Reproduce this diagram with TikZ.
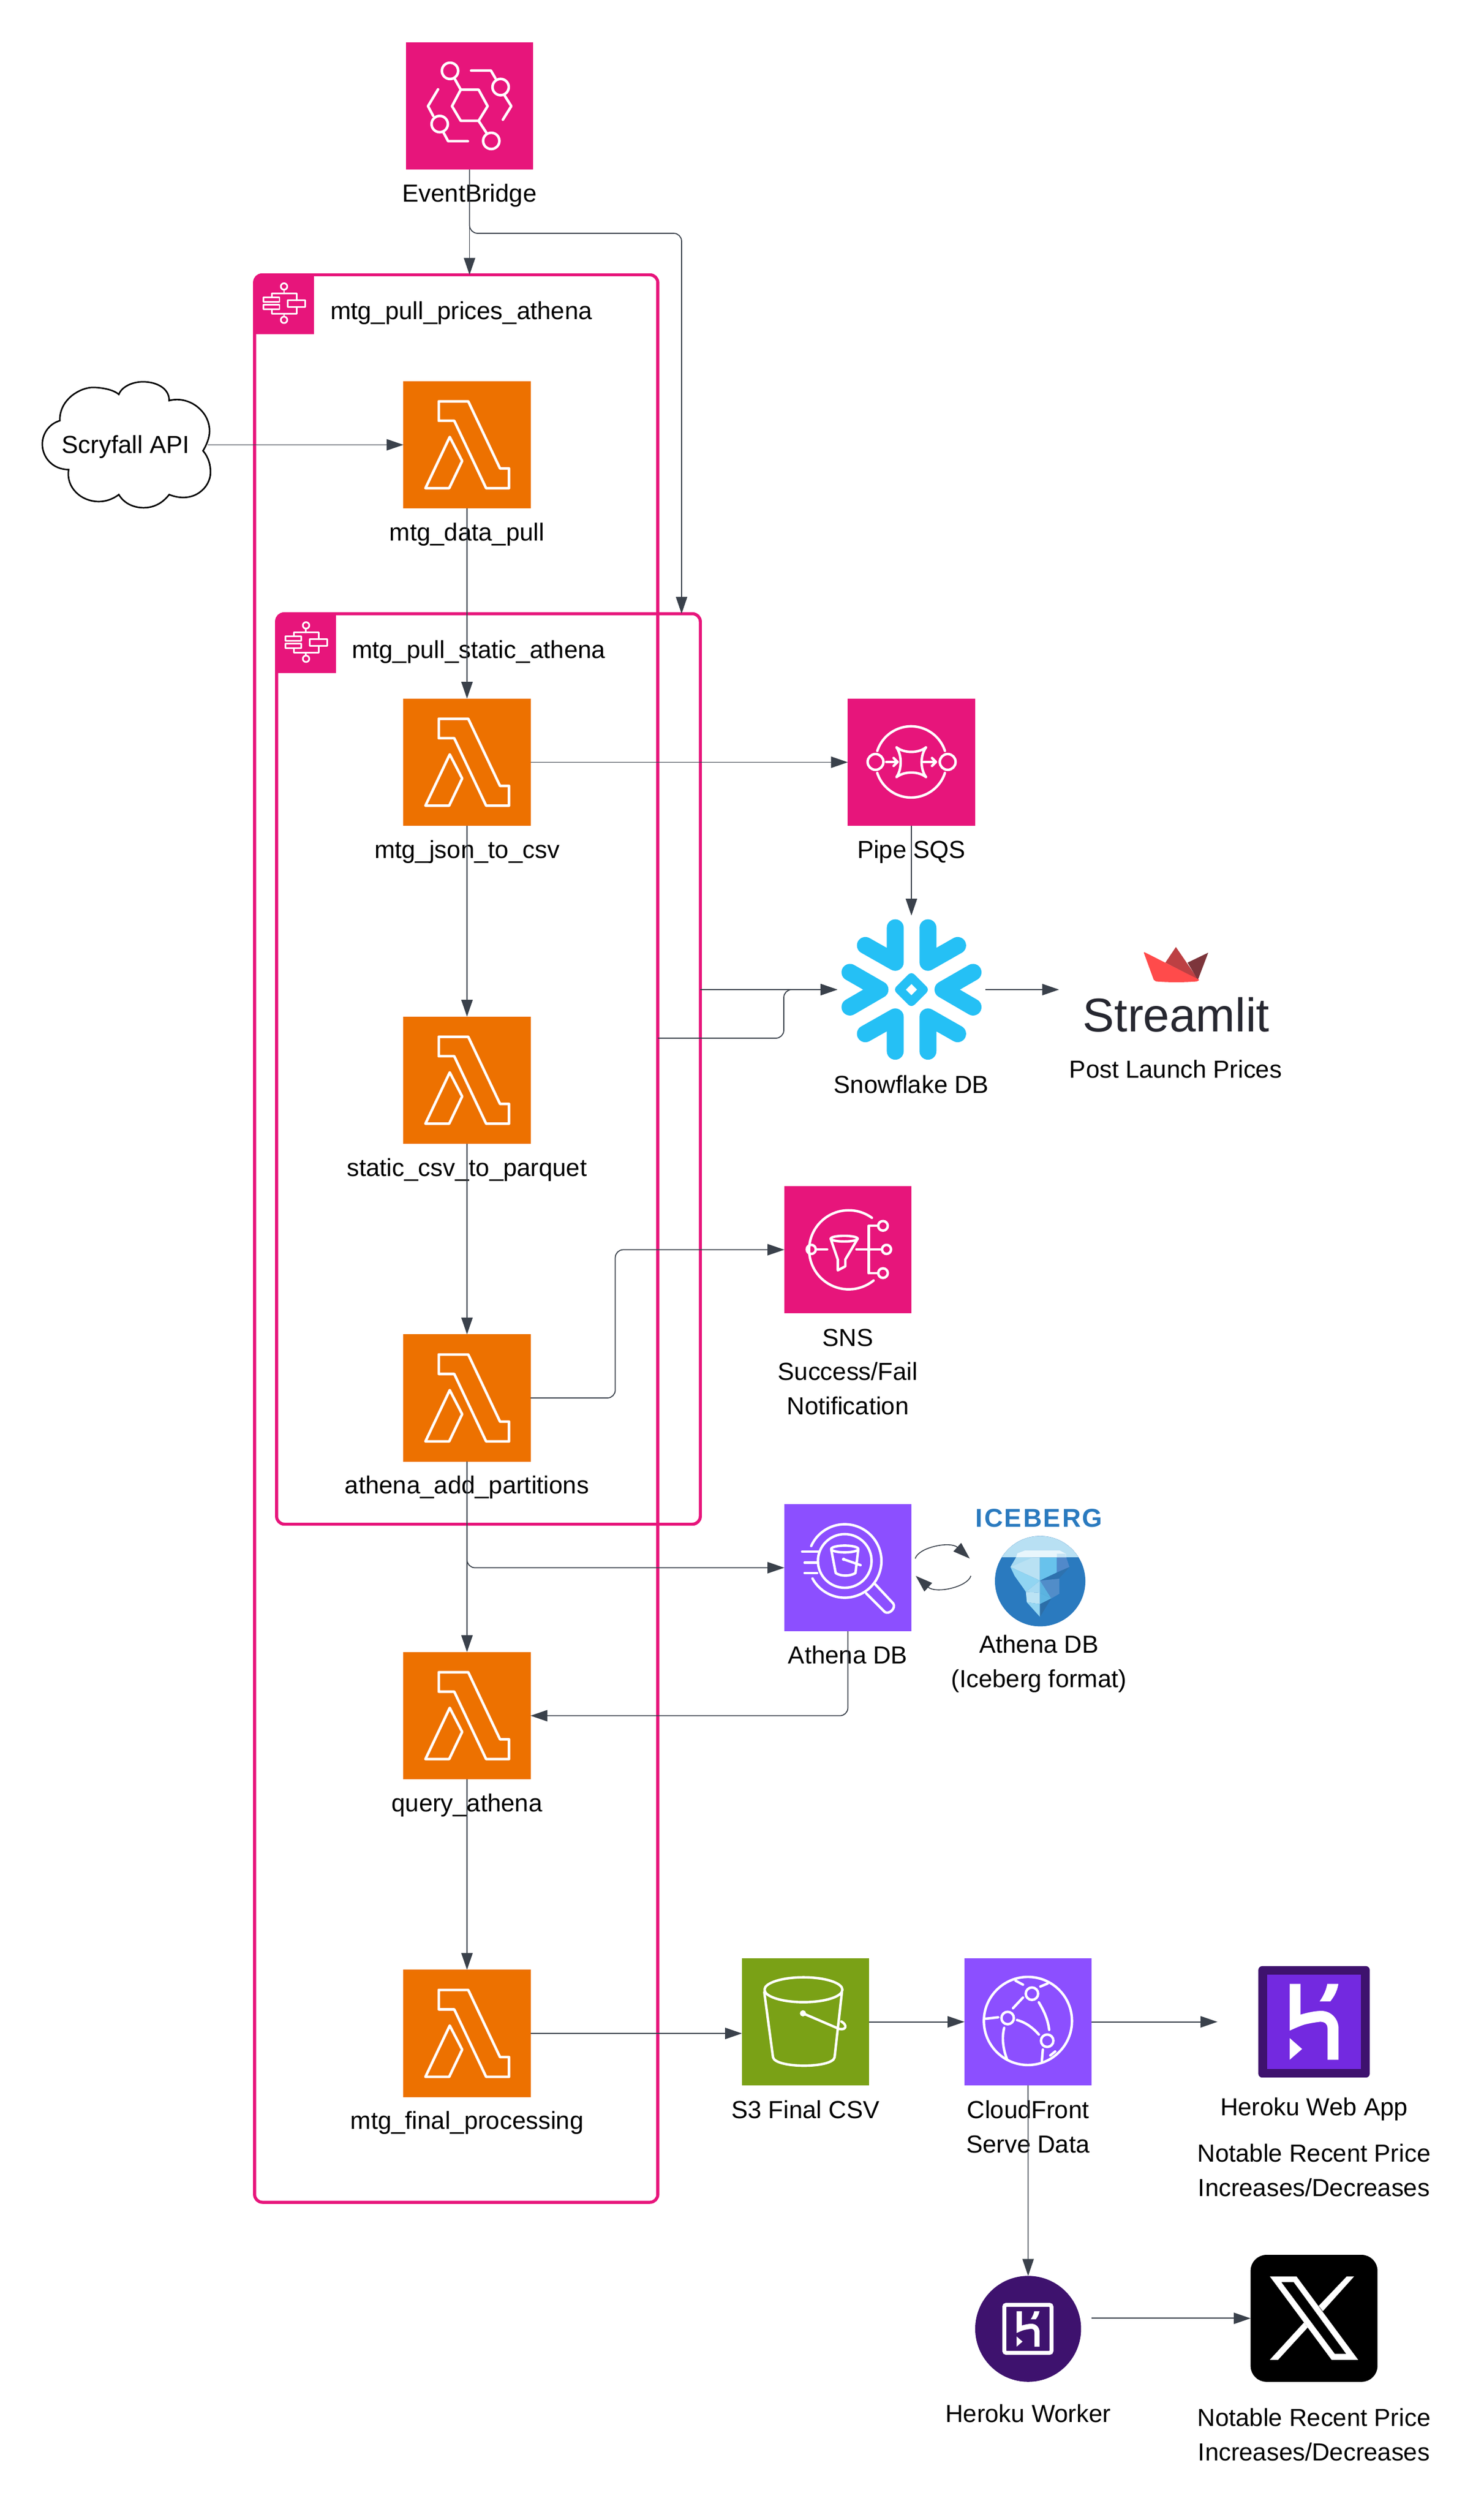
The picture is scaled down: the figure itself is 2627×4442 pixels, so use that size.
\documentclass[tikz,border=0pt]{standalone}
\usepackage{fontspec}
\setmainfont{Liberation Sans}
\usetikzlibrary{arrows.meta}
\definecolor{awspink}{HTML}{E7157B}
\definecolor{awsorange}{HTML}{ED7100}
\definecolor{awspurple}{HTML}{8C4FFF}
\definecolor{awsgreen}{HTML}{7AA116}
\definecolor{connc}{HTML}{3A414B}
\definecolor{snowc}{HTML}{25C0F5}
\definecolor{herokudark}{HTML}{3E126E}
\definecolor{herokumid}{HTML}{7329E0}
\definecolor{iceblue}{HTML}{2A7ABF}
\definecolor{stlred}{HTML}{FF4B4B}
\definecolor{stlmid}{HTML}{BD4043}
\definecolor{stldark}{HTML}{7D353B}
\definecolor{stltext}{HTML}{262730}
\tikzset{
  awsbox/.style={minimum width=2.25cm,minimum height=2.25cm,inner sep=0pt,outer sep=0pt},
  ghost/.style={inner sep=0pt,outer sep=0pt},
  frame/.style={draw=awspink,line width=1.55pt,rounded corners=4pt,inner sep=0pt,outer sep=0pt},
  conn/.style={draw=connc,line width=.55pt,-{Triangle[length=8.5pt,width=5.7pt]}},
  thinconn/.style={conn,line width=.45pt},
  bendconn/.style={conn,line width=.5pt,rounded corners=4pt},
  ico/.style={draw=white,line width=1.3pt,line join=round,line cap=round},
  lab/.style={anchor=base,inner sep=0pt,outer sep=0pt,align=center,font=\fontsize{12.42}{17.2}\selectfont},
  ttl/.style={anchor=base west,inner sep=0pt,outer sep=0pt,font=\fontsize{12.42}{17.2}\selectfont},
  zoomed/.style={x=.003333cm,y=-.003333cm}
}
\newcommand{\icep}[2]{\definecolor{tmpc}{HTML}{#1}\fill[tmpc] #2;}
\newcommand{\lambdaicon}{
  \draw[ico] (62.6,35.6)--(114.8,35.6)--(171,154.4)--(187,154.4)--(187,189.4)--(146.4,189.4)--(90,70)--(62.6,70)--cycle;
  \draw[ico] (82,98.7)--(104,141.2)--(81,189.4)--(39,189.4)--cycle;
}
\newcommand{\stepicon}{
  \fill[awspink] (0,107) [rounded corners=4pt] -- (0,0) [sharp corners] -- (107,0) -- (107,107) -- cycle;
  \begin{scope}[shift={(2,2)}]
  \draw[ico,line width=.85pt] (52.2,20.7) circle[radius=5.7] (52.2,79.8) circle[radius=5.7];
  \draw[ico,line width=.85pt] (52.2,27)--(52.2,33.3) (30.4,40.2)--(30.4,33.3)--(74.6,33.3)--(74.6,45.4)
     (30.4,61.4)--(30.4,68.9)--(74.6,68.9)--(74.6,56.8) (52.2,68.9)--(52.2,73.5);
  \draw[ico,line width=.85pt] (16,40.2) rectangle (44.2,48.2) (16,53.4) rectangle (44.2,61.4) (58.6,45.4) rectangle (89.6,56.8);
  \end{scope}
}
\newcommand{\herokuH}{
  \fill[white] (252,157)--(310,157)--(310,320) .. controls (350,308) and (390,300) .. (420,300)
     .. controls (470,300) and (512,340) .. (512,395) --(512,560)--(453,560)--(453,395)
     .. controls (453,365) and (435,358) .. (415,358) .. controls (380,362) and (350,368) .. (330,373)
     .. controls (300,383) and (275,395) .. (252,405)--cycle;
  \fill[white] (452,157)--(511,157) .. controls (505,190) and (495,215) .. (468,250)--(411,250)
     .. controls (435,215) and (445,190) .. (452,157)--cycle;
  \fill[white] (252,445)--(318,503)--(252,560)--cycle;
}
\begin{document}
\begin{tikzpicture}[x=.01cm,y=-.01cm]
\useasboundingbox (0,0) rectangle (2627,4442);
\fill[white] (0,0) rectangle (2627,4442);

% frames
\node[frame,minimum width=7.137cm,minimum height=34.105cm] (outerf) at (807.85,2192.75) {};
\node[frame,minimum width=7.5cm,minimum height=16.11cm] (innerf) at (865,1892.5) {};
\begin{scope}[shift={(outerf.north west)},shift={(-2,-2)}]\stepicon\end{scope}
\begin{scope}[shift={(innerf.north west)},shift={(-2,-2)}]\stepicon\end{scope}
\node[ttl] (ttlouter) at (585,565) {mtg\_pull\_prices\_athena};
\node[ttl] (ttlinner) at (623,1165) {mtg\_pull\_static\_athena};

% EventBridge
\node[awsbox,fill=awspink] (eb) at (831.5,187.5) {};
\begin{scope}[shift={(eb.north west)}]
  \draw[ico] (81.5,113)--(97,83.8)--(128.6,83.8)--(144.6,113)--(128.6,139)--(97,139)--cycle;
  \draw[ico] (78,50.5) circle[radius=14.4] (167.6,79.2) circle[radius=14.4] (59.7,144.7) circle[radius=14.4] (151,174.5) circle[radius=14.4];
  \draw[ico] (86.7,65.4)--(97,83.8) (128.6,139)--(143,161);
  \draw[ico] (115.4,50)--(150.4,50)--(158.4,63.7) (174.5,94)--(186.5,113)--(171.6,137);
  \draw[ico] (56.8,83.2)--(39,113)--(48.2,130.3) (66.6,160)--(74.6,175)--(109.6,175);
\end{scope}
\node[lab] (lbeb) at (831.5,357) {EventBridge};

% Lambdas
\foreach \nm/\yy/\tx in {l1/675/mtg\_data\_pull,l2/1237/mtg\_json\_to\_csv,l3/1800/static\_csv\_to\_parquet,l4/2362.5/athena\_add\_partitions,l5/2925/query\_athena,l6/3487.5/mtg\_final\_processing}{
  \node[awsbox,fill=awsorange] (\nm) at (827,\yy+112.5) {};
  \begin{scope}[shift={(\nm.north west)}]\lambdaicon\end{scope}
  \node[lab] (lb\nm) at (827,\yy+282) {\tx};
}

% Cloud
\begin{scope}[shift={(50,640)},zoomed]
\draw[black,line width=.77pt,fill=white,line join=miter]
 (168,315) .. controls (165,200) and (280,135) .. (350,138) .. controls (410,140) and (460,155) .. (482,175)
 .. controls (500,130) and (560,108) .. (610,108) .. controls (680,108) and (750,140) .. (750,208)
 .. controls (850,180) and (965,260) .. (965,370) .. controls (965,410) and (945,450) .. (930,475)
 .. controls (960,510) and (970,550) .. (970,590) .. controls (970,670) and (880,760) .. (750,708)
 .. controls (710,760) and (660,778) .. (615,778) .. controls (560,778) and (510,755) .. (482,708)
 .. controls (440,740) and (400,745) .. (375,745) .. controls (280,745) and (200,670) .. (215,575)
 .. controls (130,575) and (75,510) .. (75,440) .. controls (75,380) and (115,330) .. (168,315) -- cycle;
\end{scope}
\node[lab] (scry) at (222.7,802) {Scryfall API};
\coordinate (scryout) at (368,787.5);

% Pipe SQS
\node[awsbox,fill=awspink] (pipe) at (1614,1349.5) {};
\begin{scope}[shift={(pipe.north west)}]
  \draw[ico,line width=1.25pt] (49,112) circle[radius=14] (176.8,112) circle[radius=14];
  \draw[ico,line width=1.25pt] (52.1,92.5) arc[start angle=198,end angle=342,radius=63];
  \draw[ico,line width=1.25pt] (171.9,131.5) arc[start angle=18,end angle=162,radius=63];
  \draw[ico,line width=1.25pt] (86,86) .. controls (100,97) and (125,97) .. (138.6,86)
     .. controls (128,100) and (128,125) .. (138.6,139) .. controls (125,128) and (100,128) .. (86,139)
     .. controls (96,125) and (96,100) .. (86,86)--cycle;
  \draw[ico,line width=1.25pt] (68,112)--(88,112) (81,105)--(88,112)--(81,119) (134,112)--(156,112) (149,105)--(156,112)--(149,119);
\end{scope}
\node[lab] (lbpipe) at (1614,1519) {Pipe SQS};

% Snowflake
\node[ghost,minimum width=2.62cm,minimum height=2.62cm] (snow) at (1614,1752) {};
\begin{scope}[shift={(snow.center)},zoomed,shift={(-402,-397)}]
  \draw[snowc,line width=8.5pt,line cap=round,line join=round]
    (316,68)--(316,252)--(157,162) (490,68)--(490,252)--(648,162)
    (75,305)--(235,397)--(75,490) (730,305)--(570,397)--(730,490)
    (316,725)--(316,542)--(157,632) (490,725)--(490,542)--(648,632);
  \draw[snowc,line width=4.46pt,line join=round] (402,333.5)--(465.5,397)--(402,460.5)--(338.5,397)--cycle;
\end{scope}
\node[lab] (lbsnow) at (1614,1935) {Snowflake DB};

% Streamlit
\begin{scope}[shift={(1900,1660)},zoomed]
  \fill[stlmid,line join=round] (492,133)--(548,50)--(668,225)--cycle;
  \fill[stldark] (610,133)--(720,80)--(665,225)--cycle;
  \filldraw[stlred,line width=.5pt,line join=round] (380,80)--(668,225)--(660,230) .. controls (600,236) and (500,236) .. (442,230)--(432,222)--cycle;
\end{scope}
\node[anchor=base,inner sep=0pt,outer sep=0pt,text=stltext,font=\fontsize{23.8}{28}\selectfont] (stl) at (2083,1826.7) {Streamlit};
\coordinate (stlin) at (1875.5,1752);
\node[lab] (lbstl) at (2082,1908.6) {Post Launch Prices};

% SNS
\node[awsbox,fill=awspink] (sns) at (1501.5,2212.5) {};
\begin{scope}[shift={(sns.north west)}]
  \draw[ico,line width=1.25pt] (155.1,56.1) arc[start angle=306,end angle=51,radius=70];
  \draw[ico,line width=1.25pt] (47.7,112) circle[radius=8] (181,112) circle[radius=8] (174.7,70.3) circle[radius=8.5] (174.7,154) circle[radius=8.5];
  \draw[ico,line width=1.25pt] (56,112)--(75.8,112) (127.7,112)--(172,112) (149.4,154)--(149.4,70.3)--(165,70.3) (149.4,154)--(165,154);
  \draw[ico,line width=1.25pt] (106,93) ellipse[x radius=24,y radius=5];
  \draw[ico,line width=1.25pt] (82,93)--(94.7,130)--(94.7,149)--(108,142)--(108,130)--(130,93);
\end{scope}
\node[lab] (lbsns) at (1501.5,2504) {SNS\\Success/Fail\\Notification};

% Athena
\node[awsbox,fill=awspurple] (athena) at (1501.5,2775.5) {};
\begin{scope}[shift={(athena.north west)}]
  \draw[ico,line width=1.25pt] (47.6,74.2) arc[start angle=204,end angle=511.5,radius=65];
  \draw[ico,line width=1.25pt] (107,100.6) circle[radius=47.5];
  \draw[ico,line width=1.25pt] (31.6,84)--(59.6,84) (36,103.6)--(59,103.6) (36,122)--(58,122);
  \draw[ico,line width=1.25pt] (107,79.4) ellipse[x radius=24,y radius=6];
  \draw[ico,line width=1.25pt] (83,80)--(91,122) .. controls (100,128) and (116,128) .. (126,122)--(131,80);
  \fill[white] (105,97.6) circle[radius=3];
  \draw[ico,line width=1.25pt] (105,97.6)--(135,108);
  \draw[ico,line width=1.25pt] (145,158)--(178,191) .. controls (186,196) and (198,184) .. (193,176)--(161,141.8);
\end{scope}
\node[lab] (lbathena) at (1501.5,2945) {Athena DB};

% Iceberg
\node[anchor=base,inner sep=0pt,outer sep=0pt,text=iceblue,font=\fontsize{13}{16}\selectfont\bfseries\addfontfeature{LetterSpace=6}] (iceword) at (1840,2703) {ICEBERG};
\node[circle,fill=iceblue,minimum size=1.6cm,inner sep=0pt,outer sep=0pt] (ice) at (1842,2799.3) {};
\begin{scope}[shift={(ice.center)},zoomed,shift={(-726,-478)}]
  \begin{scope}
    \clip (726,478) circle[radius=240];
    \icep{B8E0F3}{(400,200) rectangle (1000,352)}
  \end{scope}
  \icep{E8F6FC}{(598,352)--(605,330)--(645,315)--(830,315)--(862,332)--(865,352)--cycle}
  \icep{C5E3F4}{(815,332)--(860,332)--(865,352)--(815,352)--cycle}
  \icep{B9E1F3}{(568,403)--(598,352)--(725,352)--(725,475)--cycle}
  \icep{A8DAF1}{(568,403)--(598,352)--(685,352)--cycle}
  \icep{91D5F2}{(568,403)--(725,475)--(650,535)--(640,520)--(590,450)--cycle}
  \icep{68C2EC}{(725,352)--(815,352)--(815,432)--(725,475)--cycle}
  \icep{5189CA}{(815,352)--(865,352)--(882,403)--(815,432)--cycle}
  \icep{2E72AE}{(882,403)--(825,465)--(725,475)--(815,432)--cycle}
  \icep{518DC9}{(725,475)--(828,465)--(828,545)--(785,570)--cycle}
  \icep{5BB3E0}{(725,475)--(785,570)--(725,540)--cycle}
  \icep{A6DAF2}{(725,475)--(725,540)--(650,535)--cycle}
  \icep{BBE3F4}{(650,535)--(725,540)--(725,600)--(655,590)--cycle}
  \icep{5DB5E2}{(725,540)--(785,570)--(725,600)--cycle}
  \icep{94D6F2}{(655,590)--(725,600)--(725,668)--cycle}
  \icep{2C6EA8}{(725,600)--(785,570)--(725,668)--cycle}
\end{scope}
\node[lab] (lbice) at (1840,2987) {Athena DB\\(Iceberg format)};

% S3
\node[awsbox,fill=awsgreen] (s3) at (1426.5,3579.5) {};
\begin{scope}[shift={(s3.north west)}]
  \draw[ico,line width=1.25pt] (108.9,55.7) ellipse[x radius=69,y radius=22];
  \draw[ico,line width=1.25pt] (39.5,60)--(55,175.5) .. controls (60,195) and (160,195) .. (164,175.5)--(177,60);
  \fill[white] (108,97.5) circle[radius=5.5];
  \draw[ico,line width=1.25pt] (108,97.5)--(172,125) .. controls (185,128) and (187,118) .. (176,112);
\end{scope}
\node[lab] (lbs3) at (1426.5,3750) {S3 Final CSV};

% CloudFront
\node[awsbox,fill=awspurple] (cf) at (1820.5,3579.5) {};
\begin{scope}[shift={(cf.north west)}]
  \draw[ico,line width=1.25pt] (90.5,39.7)--(103.6,46.7) (134.4,50)--(147.5,44.6) (138.8,161.6)--(137,182.4) (152,172)--(160.7,165);
  \draw[ico,line width=1.25pt] (112.4,111) circle[radius=78];
  \draw[ico,line width=1.25pt] (119.5,62.7) circle[radius=11] (76.5,105.8) circle[radius=11] (146.5,146) circle[radius=11];
  \draw[ico,line width=1.25pt] (103.6,69.6)--(86,88.4) (37.8,107)--(59.7,104.5);
  \draw[ico,line width=1.25pt] (93,109.3) .. controls (110,114) and (122,124) .. (131.7,135);
  \draw[ico,line width=1.25pt] (131.7,78) .. controls (142,95) and (148,110) .. (150,126.7);
  \draw[ico,line width=1.25pt] (70.3,123.3) .. controls (66,140) and (68,160) .. (75.5,179);
\end{scope}
\node[lab] (lbcf) at (1820.5,3811) {CloudFront\\Serve Data};

% Heroku web
\node[ghost,minimum width=3.42cm,minimum height=1.98cm] (hweb) at (2327,3579.5) {};
\begin{scope}[shift={(hweb.center)},zoomed,shift={(-381.5,-358.5)}]
  \fill[herokudark,rounded corners=2pt] (85,62) rectangle (678,655);
  \fill[herokumid] (132,108) rectangle (630,608);
  \herokuH
\end{scope}
\node[lab] (lbhw) at (2327,3745.5) {Heroku Web App};
\node[lab] (lbhwn) at (2327,3888) {Notable Recent Price\\Increases/Decreases};

% Heroku worker
\node[circle,fill=herokudark,minimum size=1.874cm,inner sep=0pt,outer sep=0pt] (worker) at (1820.7,4123) {};
\draw[white,line width=2pt,rounded corners=1pt] (1778.5,4080.5) rectangle (1862,4165.5);
\begin{scope}[shift={(worker.center)},x=.00156cm,y=-.00156cm,shift={(-382,-358)}]
  \herokuH
\end{scope}
\coordinate (workerout) at (1933,4104.4);
\node[lab] (lbworker) at (1820.7,4288.7) {Heroku Worker};

% X
\node[fill=black,minimum width=2.246cm,minimum height=2.246cm,rounded corners=8pt,inner sep=0pt,outer sep=0pt] (xlogo) at (2327,4104.4) {};
\fill[white,even odd rule] (2248.8,4030.3)--(2296,4030.3)--(2405,4177.7)--(2358,4177.7)--cycle
   (2269,4040.3)--(2291,4040.3)--(2384,4167.3)--(2363.7,4167.3)--cycle;
\fill[white] (2384.8,4030.3)--(2397.9,4030.3)--(2342.6,4091.7)--(2335.3,4082.3)--cycle;
\fill[white] (2309.2,4111.7)--(2315.7,4120.7)--(2263.4,4177.7)--(2248.8,4177.7)--cycle;
\node[lab] (lbxn) at (2327,4356) {Notable Recent Price\\Increases/Decreases};

% Connectors
\coordinate (ebturn) at (1207,413);
\draw[conn] (eb.south) -- (eb.south |- outerf.north);
\draw[bendconn] (eb.south) |- (ebturn) -- (ebturn |- innerf.north);
\draw[thinconn] (scryout) -- (l1.west);
\draw[conn] (l1) -- (l2);
\draw[conn] (l2) -- (l3);
\draw[conn] (l3) -- (l4);
\draw[conn] (l4) -- (l5);
\draw[conn] (l5) -- (l6);
\draw[conn] (l2.east) -- (pipe.west);
\draw[conn] (pipe.south) -- (snow.north);
\draw[conn] (innerf.east |- snow.west) -- (snow.west);
\coordinate (outerexit) at (1165,1838);
\coordinate (snowbend) at (1388,1838);
\draw[bendconn] (outerexit) -- (snowbend) |- (snow.west);
\draw[conn] (snow.east) -- (stlin);
\draw[bendconn] (l4.east) -- ++(150,0) |- (sns.west);
\draw[bendconn] (l4.south) |- (athena.west);
\draw[bendconn] (athena.south) |- (l5.east);
\draw[conn] (l6.east) -- (s3.west |- l6.east);
\draw[conn] (s3.east) -- (cf.west);
\draw[conn] (cf.east) -- (hweb.west);
\draw[thinconn] (cf.south) -- (worker.north);
\draw[conn] (workerout) -- (xlogo.west);
\coordinate (aout) at (1620.7,2759.3);
\coordinate (iin) at (1717.3,2759.3);
\coordinate (iout) at (1719.3,2790);
\coordinate (ain) at (1621.7,2790);
\draw[thinconn] (aout) .. controls (1627,2739) and (1683,2728) .. (iin);
\draw[thinconn] (iout) .. controls (1713,2810) and (1657,2822) .. (ain);
\end{tikzpicture}
\end{document}
